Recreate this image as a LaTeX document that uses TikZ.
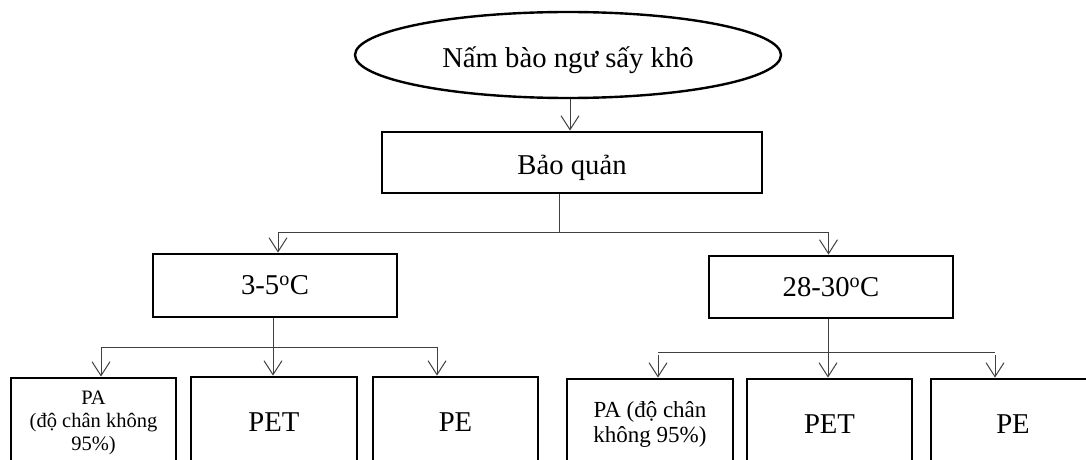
\documentclass[tikz,border=0pt]{standalone}
\usepackage{fontspec}
\setmainfont{Liberation Serif}
\usetikzlibrary{shapes.geometric,arrows.meta}
\begin{document}
\begin{tikzpicture}[x=1pt,y=-1pt,
  boxstyle/.style={draw=black,line width=2.8pt,rectangle,inner sep=0pt,align=center},
  conn/.style={draw=black!75,line width=1pt},
  arr/.style={conn,-{Straight Barb[length=14pt,width=18pt,line width=1pt]}},
  bigtext/.style={font=\fontsize{28.7}{33}\selectfont},
  lowered/.style={text height=27pt,text depth=3pt},
  ]
\path[use as bounding box] (0,0) rectangle (1086,460);
\clip (0,0) rectangle (1086,460);
% top
\node[draw=black,line width=2.4pt,ellipse,minimum width=426pt,minimum height=86pt,inner sep=0pt,bigtext,lowered] (title) at (568,55) {Nấm bào ngư sấy khô};
\node[boxstyle,minimum width=380pt,minimum height=61pt,bigtext,lowered] (bq) at (572,162.5) {Bảo quản};
% second level
\node[boxstyle,minimum width=244pt,minimum height=63pt,bigtext] (c1) at (275,285.5) {3-5\textsuperscript{o}C};
\node[boxstyle,minimum width=244pt,minimum height=62pt,bigtext] (c2) at (831,287) {28-30\textsuperscript{o}C};
% third level left
\node[boxstyle,minimum width=165pt,minimum height=90pt,font=\fontsize{20.5}{23}\selectfont] (l1) at (93.5,423) {PA\\(độ chân không\\95\%)};
\node[boxstyle,minimum width=166pt,minimum height=90pt,bigtext] (l2) at (274,422) {PET};
\node[boxstyle,minimum width=165pt,minimum height=90pt,bigtext] (l3) at (455.5,422) {PE};
% third level right
\node[boxstyle,minimum width=166pt,minimum height=90pt,font=\fontsize{23}{25}\selectfont] (r1) at (650,424) {PA (độ chân\\không 95\%)};
\node[boxstyle,minimum width=165pt,minimum height=90pt,bigtext] (r2) at (829.5,424) {PET};
\node[boxstyle,minimum width=164pt,minimum height=90pt,bigtext] (r3) at (1013,424) {PE};
% connectors
\draw[arr] (title.south -| 570,0) -- (bq.north -| 570,0);
\coordinate (j0) at (559,232);
\coordinate (jl) at (278,232);
\coordinate (jr) at (828.5,232);
\draw[conn] (bq.south -| j0) -- (j0);
\draw[conn] (jl) -- (jr);
\draw[arr] (jl) -- (c1.north -| jl);
\draw[arr] (jr) -- (c2.north -| jr);
% left lower
\coordinate (k0) at (273,347);
\coordinate (kl) at (101,347);
\coordinate (kr) at (437,347);
\draw[conn] (c1.south -| k0) -- (k0);
\draw[conn] (kl) -- (kr);
\draw[arr] (kl) -- (l1.north -| kl);
\draw[arr] (k0) -- (l2.north -| k0);
\draw[arr] (kr) -- (l3.north -| kr);
% right lower
\coordinate (m0) at (828,352);
\coordinate (ml) at (658,352);
\coordinate (mr) at (995,352);
\draw[conn] (c2.south -| m0) -- (m0);
\draw[conn] (ml) -- (mr);
\draw[arr] ([yshift=-3pt]ml) -- (r1.north -| ml);
\draw[arr] (m0) -- (r2.north -| m0);
\draw[arr] ([yshift=-3pt]mr) -- (r3.north -| mr);
\end{tikzpicture}
\end{document}
